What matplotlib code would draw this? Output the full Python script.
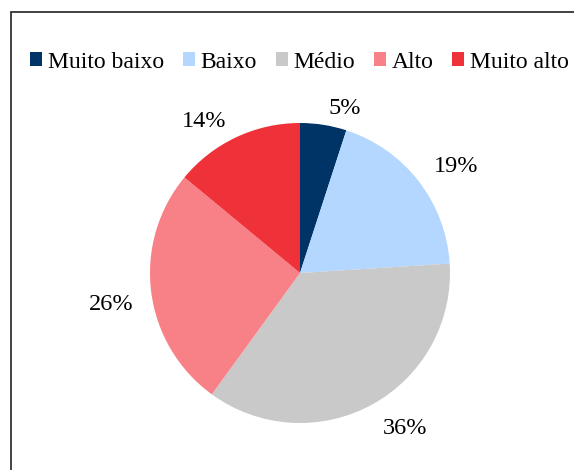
import matplotlib
matplotlib.use("Agg")
import numpy as np
import matplotlib.pyplot as plt
from matplotlib.patches import Rectangle

# data
categories = ["Muito baixo", "Baixo", "Médio", "Alto", "Muito alto"]
shares = [5, 19, 36, 26, 14]
colors = ["#003366", "#B3D7FF", "#C9C9C9", "#F78187", "#EF323A"]

plt.rcParams["font.family"] = ["Liberation Serif", "DejaVu Serif"]

W, H = 574, 470
fig = plt.figure(figsize=(W / 100, H / 100), dpi=100)

# outer chart border (runs off the right and bottom edges)
fig.patches.append(Rectangle((11 / W, -0.01), 1.0, 1 - 12 / H + 0.01,
                             transform=fig.transFigure, fill=False,
                             edgecolor="#222222", linewidth=1.2))

cx, cy, r = 300, 273, 150
ax = fig.add_axes([(cx - r) / W, (H - cy - r) / H, 2 * r / W, 2 * r / H])
wedges, _ = ax.pie(shares, colors=colors, startangle=90, counterclock=False,
                   wedgeprops={"linewidth": 0})
ax.set_xlim(-1, 1)
ax.set_ylim(-1, 1)
ax.set_aspect("equal")
ax.axis("off")

# "outside end" labels: corner of the text box sits just off the rim
for w, v in zip(wedges, shares):
    th = np.deg2rad((w.theta1 + w.theta2) / 2)
    c, s = np.cos(th), np.sin(th)
    x = 1.1 * c + 0.02 * np.sign(c)
    y = (1.04 if s > 0 else 1.1) * s
    ax.text(x, y, f"{v}%", fontsize=17.5, clip_on=False,
            ha="left" if c > 0 else "right",
            va="bottom" if s > 0 else "top")

fig.legend(wedges, categories, loc="center left", bbox_to_anchor=(30 / W, 1 - 62 / H),
           ncol=5, frameon=False, fontsize=17, handlelength=0.5, handleheight=0.5,
           handletextpad=0.25, columnspacing=0.8, borderaxespad=0, borderpad=0)

fig.savefig("out.png", dpi=100)
